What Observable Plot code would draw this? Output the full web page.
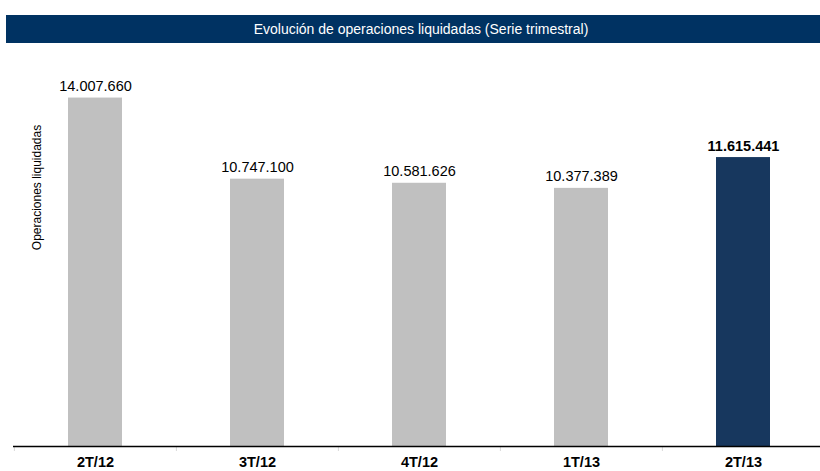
<!DOCTYPE html>
<html>
<head>
<meta charset="utf-8">
<script src="https://cdn.jsdelivr.net/npm/d3@7"></script>
<script src="https://cdn.jsdelivr.net/npm/@observablehq/plot@0.6"></script>
<style>
  html, body { margin: 0; padding: 0; background: #fff; }
  body { width: 820px; height: 471px; overflow: hidden; font-family: "Liberation Sans", Arial, sans-serif; }
  #title {
    margin: 15px 0 0 6px; width: 814px; height: 28px; background: #003262; box-sizing: border-box;
    padding-left: 16px; color: #fff; font-size: 14px; line-height: 28px; text-align: center;
  }
  #chart svg { display: block; }
</style>
</head>
<body>
<div id="title">Evolución de operaciones liquidadas (Serie trimestral)</div>
<div id="chart"></div>
<script>
const categories = ["2T/12", "3T/12", "4T/12", "1T/13", "2T/13"];
const values = [14007660, 10747100, 10581626, 10377389, 11615441];
const highlight = [false, false, false, false, true];
const yLabel = "Operaciones liquidadas";

const data = categories.map((c, i) => ({cat: c, value: values[i], hl: highlight[i]}));
const fmt = d3.formatLocale({decimal: ",", thousands: ".", grouping: [3], currency: ["", ""]}).format(",");

const W = 820, H = 428, mL = 13, mR = -4, mT = 5, mB = 25;
const step = (W - mL - mR) / categories.length;

const chart = Plot.plot({
  width: W, height: H,
  marginLeft: mL, marginRight: mR, marginTop: mT, marginBottom: mB,
  style: {fontFamily: '"Liberation Sans", Arial, sans-serif', background: "#fff", overflow: "hidden"},
  x: {domain: categories, paddingInner: 0.667, paddingOuter: 0.3335, label: null},
  y: {domain: [0, 16000000], axis: null},
  marks: [
    Plot.barY(data, {x: "cat", y: "value", fill: d => d.hl ? "#17375e" : "#c0c0c0"}),
    Plot.text(data.filter(d => !d.hl), {x: "cat", y: "value", text: d => fmt(d.value), dy: -7, lineAnchor: "bottom",
      fontSize: 14.5, fill: "#000"}),
    Plot.text(data.filter(d => d.hl), {x: "cat", y: "value", text: d => fmt(d.value), dy: -7, lineAnchor: "bottom",
      fontSize: 14.5, fill: "#000", fontWeight: "bold"}),
    Plot.axisX({tickSize: 5, stroke: "#d9d9d9", text: null, dx: -step / 2}),
    Plot.axisX({tickSize: 0, tickPadding: 10, fontSize: 14.5, fontWeight: "bold", fill: "#000"}),
    Plot.ruleY([0], {stroke: "#000", strokeWidth: 1.5}),
    Plot.text([yLabel], {frameAnchor: "top-left", dx: 19, dy: 139, rotate: -90, textAnchor: "middle",
      fontSize: 12, fill: "#000"})
  ]
});
document.getElementById("chart").appendChild(chart);
</script>
</body>
</html>
